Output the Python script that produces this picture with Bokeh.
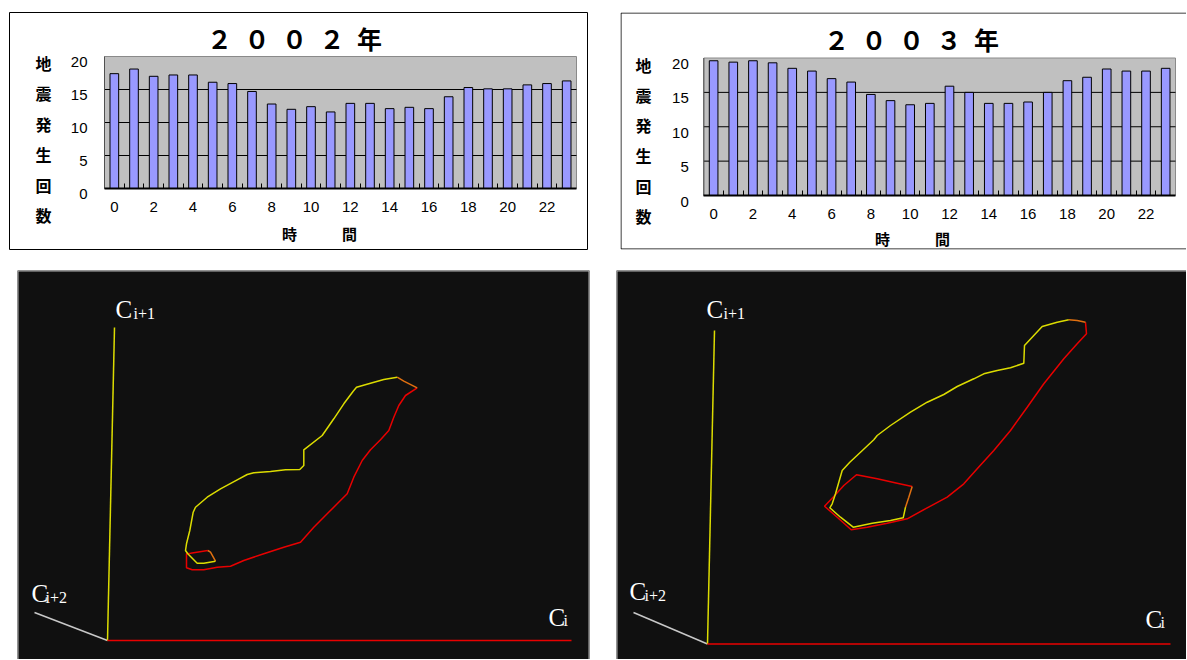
from bokeh.plotting import figure
from bokeh.layouts import row, column
from bokeh.models import Range1d, FixedTicker, LinearAxis
from bokeh.core.properties import value
from bokeh.embed import file_html
from bokeh.resources import INLINE

# ---------------- data ----------------
hours = list(range(24))
counts_2002 = [17.4, 18.1, 17.0, 17.2, 17.2, 16.1, 15.9, 14.7, 12.8, 12.0, 12.4, 11.6,
               12.9, 12.9, 12.1, 12.3, 12.1, 13.9, 15.3, 15.1, 15.1, 15.7, 15.9, 16.3]
counts_2003 = [19.6, 19.4, 19.6, 19.3, 18.5, 18.1, 17.0, 16.5, 14.7, 13.8, 13.2, 13.4,
               15.9, 15.0, 13.4, 13.4, 13.6, 15.0, 16.7, 17.2, 18.4, 18.1, 18.1, 18.5]
y_tick_values = [0, 5, 10, 15, 20]
x_tick_values = [0, 2, 4, 6, 8, 10, 12, 14, 16, 18, 20, 22]
y_title_chars = ["地", "震", "発", "生", "回", "数"]
x_title_text = "時　　　間"
title_2002 = "２\u2002０\u2002０\u2002２\u2002年"
title_2003 = "２\u2002０\u2002０\u2002３\u2002年"

# phase-space trajectories (C_i, C_i+1, C_i+2 projected)
a02_red_x = [309.7, 298, 291.3, 286.3, 281.3, 273, 263, 254.7, 246.3, 239.7, 229.7, 219.7, 206.3,
             193, 176.3, 156.3, 136.3, 123, 109.7, 96.3, 84.7, 79, 79, 83, 100.3]
a02_red_y = [252.7, 245, 235, 223.3, 210, 200.7, 190.7, 180, 163.3, 146.7, 136.7, 126.7, 113.3,
             98.3, 93.3, 86.7, 80, 74.3, 73.3, 70.7, 70.7, 72.7, 86.7, 87.3, 90]
a02_or1_x = [100.3, 103, 108]
a02_or1_y = [90, 88.3, 79.3]
a02_yel_x = [108, 96.3, 89.7, 80.3, 78, 79, 82.3, 85.7, 88, 99.7, 113, 129.7, 139.7, 146.3, 163,
             178, 192.3, 196.3, 196.3, 214.7, 226.3, 236.3, 245.7, 249, 263, 276.3, 289.7]
a02_yel_y = [79.3, 77.3, 77.3, 86.7, 90, 96.7, 110, 128.3, 133.3, 143.3, 151.7, 160.7, 166, 167.7,
             169, 170.7, 171, 175, 190.7, 205, 221.7, 236.7, 249.3, 253.3, 257.3, 261, 263.3]
a02_or2_x = [289.7, 296.3, 309.7]
a02_or2_y = [263.3, 259.3, 252.7]

a03_red_x = [378, 379, 369.7, 356.3, 336.3, 319.7, 303, 286.3, 269.7, 256.3, 239.7, 219.7, 199.7,
             179.7, 159.7, 143.7, 129.7, 117, 126.3, 136.3, 149, 169.7, 189.7, 204.7]
a03_red_y = [321.8, 310.2, 300.2, 285.2, 260.2, 236.8, 213.5, 193.5, 175.2, 160.2, 146.8, 136.2,
             125.2, 120.8, 116.8, 114.2, 126.8, 137.8, 147.5, 158.5, 169.2, 165.2, 160.8, 157.5]
a03_or1_x = [204.7, 201.3, 198]
a03_or1_y = [157.5, 146.8, 136.8]
a03_yel_x = [198, 195.7, 183, 164.7, 145.7, 133, 122.3, 124.7, 128, 131.3, 134.7, 142.3, 153, 166.3,
             169.7, 183, 203, 219.7, 236.3, 249.7, 266.3, 276.3, 289.7, 303, 316.3, 317, 326.3,
             334.7, 349.7, 361.3]
a03_yel_y = [136.8, 126.2, 123.5, 120.8, 116.8, 126.8, 136.2, 140.2, 150.2, 161.8, 173.5, 181.8,
             191.8, 204.2, 208.5, 218.5, 231.8, 241.8, 249.5, 257.5, 265.2, 270.2, 273.5, 276.2,
             280.8, 298.5, 308.5, 317.5, 321.8, 324.2]
a03_or2_x = [361.3, 369.7, 378]
a03_or2_y = [324.2, 323.5, 321.8]

# embedding axes end points (C_i, C_i+1, C_i+2)
axes_2002 = {"ci": (464, 0), "ci1": (7, 313), "ci2": (-73, 28)}
axes_2003 = {"ci": (463, 0), "ci1": (7, 313.5), "ci2": (-74, 31.5)}

JP = "Noto Sans CJK JP"
YEL = "#dcdc00"
RED = "#e80000"
ORA = "#e07010"
TOP_H = 270
BOT_H = 389


def make_bar(counts, title, cx0, width, frame, anchors, title_c, ychar_x, ychar_y0, ychar_step,
             xtitle_c, ylab_shift_px, ylab_standoff, closed):
    fl, fr, ft, fb = frame                 # frame edges in page pixels
    ax0, ax1, ay0, ay20 = anchors          # pixel of x=-0.5, x=23.5, y=0, y=20
    sx = 24.0 / (ax1 - ax0)
    sy = 20.0 / (ay0 - ay20)
    xr = (-0.5 - (ax0 - fl) * sx, -0.5 + (fr - ax0) * sx)
    yr = (-(fb - ay0) * sy, 20 + (ay20 - ft) * sy)

    def dx(px):
        return -0.5 + (px - ax0) * sx

    def dy(py):
        return (ay0 - py) * sy

    p = figure(width=width, height=TOP_H, x_range=Range1d(*xr), y_range=Range1d(*yr),
               x_axis_type=None, y_axis_type=None, output_backend="svg", toolbar_location=None,
               min_border_left=fl - cx0, min_border_right=cx0 + width - fr,
               min_border_top=ft, min_border_bottom=TOP_H - fb)
    p.background_fill_color = "white"
    p.border_fill_color = "white"
    p.outline_line_color = "black" if closed else None
    p.grid.visible = False

    # plot area, grid lines, bars
    p.quad(left=[-0.5], right=[23.5], bottom=[0], top=[20], fill_color="#c0c0c0",
           line_color="#8a8a8a", line_width=1)
    gl = y_tick_values[1:-1]
    p.segment(x0=[-0.5] * len(gl), x1=[23.5] * len(gl), y0=gl, y1=gl, line_color="black",
              line_width=1)
    p.segment(x0=[-0.5], x1=[-0.5], y0=[0], y1=[20], line_color="#505050", line_width=1)
    p.vbar(x=hours, top=counts, width=0.44, fill_color="#9999ff", line_color="black", line_width=1)

    # x axis (category boundaries ticked inside, labels every 2 h)
    xa = LinearAxis(fixed_location=0, bounds=(-0.5, 23.5),
                    ticker=FixedTicker(ticks=x_tick_values, minor_ticks=[h + 0.5 for h in hours[:-1]]))
    xa.major_tick_line_color = None
    xa.minor_tick_in = 5
    xa.minor_tick_out = 0
    xa.minor_tick_line_color = "black"
    xa.axis_line_color = "black"
    xa.axis_line_width = 2
    xa.major_label_text_font = "Liberation Sans"
    xa.major_label_text_font_size = "15px"
    xa.major_label_text_color = "black"
    xa.major_label_standoff = 7
    p.add_layout(xa, "below")

    # y axis labels (set slightly below their grid lines as in the original)
    shift = ylab_shift_px * sy
    p.extra_y_ranges = {"lab": Range1d(yr[0] + shift, yr[1] + shift)}
    ya = LinearAxis(fixed_location=-0.5, y_range_name="lab", ticker=FixedTicker(ticks=y_tick_values))
    ya.axis_line_color = None
    ya.major_tick_line_color = None
    ya.minor_tick_line_color = None
    ya.major_label_text_font = "Liberation Sans"
    ya.major_label_text_font_size = "15px"
    ya.major_label_text_color = "black"
    ya.major_label_standoff = ylab_standoff
    p.add_layout(ya, "left")

    # texts
    p.text(x=[dx(title_c[0])], y=[dy(title_c[1])], text=[title], text_align="center",
           text_baseline="middle", text_font=value(JP), text_font_style="bold",
           text_font_size="25px", text_color="black")
    p.text(x=[dx(ychar_x)] * len(y_title_chars),
           y=[dy(ychar_y0 + k * ychar_step) for k in range(len(y_title_chars))],
           text=y_title_chars, text_align="center", text_baseline="middle", text_font=value(JP),
           text_font_style="bold", text_font_size="16px", text_color="black")
    p.text(x=[dx(xtitle_c[0])], y=[dy(xtitle_c[1])], text=[x_title_text], text_align="center",
           text_baseline="middle", text_font=value(JP), text_font_style="bold",
           text_font_size="15px", text_color="black")

    if not closed:
        # open box (continues past the right edge of the window)
        p.line(x=[xr[1] + 1, dx(fl + 0.5), dx(fl + 0.5), xr[1] + 1],
               y=[dy(ft + 0.5), dy(ft + 0.5), dy(fb - 0.5), dy(fb - 0.5)],
               line_color="black", line_width=1)
    return p


def make_attractor(width, mbl, mbr, xr, yr, axes, paths, labels, right_edge):
    p = figure(width=width, height=BOT_H, x_range=Range1d(*xr), y_range=Range1d(*yr),
               output_backend="svg", toolbar_location=None, x_axis_type=None, y_axis_type=None,
               min_border_left=mbl, min_border_right=mbr, min_border_top=0, min_border_bottom=0)
    p.background_fill_color = "#101010"
    p.border_fill_color = "white"
    p.outline_line_color = None
    p.grid.visible = False
    bx = [xr[0] + 0.5, xr[0] + 0.5, xr[1] - 0.5, xr[1] - 0.5] if right_edge else \
         [xr[0] + 0.5, xr[0] + 0.5, xr[1] + 1]
    by = [yr[0] - 1, yr[1] - 0.5, yr[1] - 0.5, yr[0] - 1] if right_edge else \
         [yr[0] - 1, yr[1] - 0.5, yr[1] - 0.5]
    p.line(bx, by, line_color="#b4b4b4", line_width=1)

    p.line([0, axes["ci2"][0]], [0, axes["ci2"][1]], line_color="#c8c8c8", line_width=1.5)
    p.line([0, axes["ci1"][0]], [0, axes["ci1"][1]], line_color=YEL, line_width=1.5)
    p.line([0, axes["ci"][0]], [0, axes["ci"][1]], line_color=RED, line_width=1.5)

    for xs, ys, col in paths:
        p.line(xs, ys, line_color=col, line_width=1.5)

    for (cx, cy, sx, sy, sub) in labels:
        p.text([cx], [cy], text=["C"], text_color="white", text_font=value("Liberation Serif"),
               text_font_size="25px", text_align="left", text_baseline="alphabetic")
        p.text([sx], [sy], text=[sub], text_color="white", text_font=value("Liberation Serif"),
               text_font_size="16px", text_align="left", text_baseline="alphabetic")
    return p


p1 = make_bar(counts_2002, title_2002, 0, 603, (9, 587, 12, 249), (104, 576, 188, 56),
              (294, 37), 43, 62, 30.5, (319, 233), 5.5, 11, True)
p2 = make_bar(counts_2003, title_2003, 603, 583, (620, 1186, 12, 249), (703.3, 1175, 195, 57.5),
              (911, 38), 643, 64, 30.3, (912, 238), 6.0, 9, False)

p3 = make_attractor(616, 17, 27, (-90, 482), (-19, 370), axes_2002,
                    [(a02_red_x, a02_red_y, RED), (a02_or1_x, a02_or1_y, ORA),
                     (a02_yel_x, a02_yel_y, YEL), (a02_or2_x, a02_or2_y, ORA)],
                    [(8, 331, 26, 327, "i+1"), (441, 23, 456, 20, "i"), (-76, 47, -62, 43, "i+2")],
                    True)
p4 = make_attractor(570, 0, 0, (-91, 479), (-15.5, 373.5), axes_2003,
                    [(a03_red_x, a03_red_y, RED), (a03_or1_x, a03_or1_y, ORA),
                     (a03_yel_x, a03_yel_y, YEL), (a03_or2_x, a03_or2_y, ORA)],
                    [(-1, 334.5, 16, 330.5, "i+1"), (438, 24.5, 453, 21.5, "i"),
                     (-78, 52.5, -63, 48.5, "i+2")],
                    False)

layout = column(row(p1, p2), row(p3, p4))
open("out.html", "w").write(file_html(layout, INLINE))
